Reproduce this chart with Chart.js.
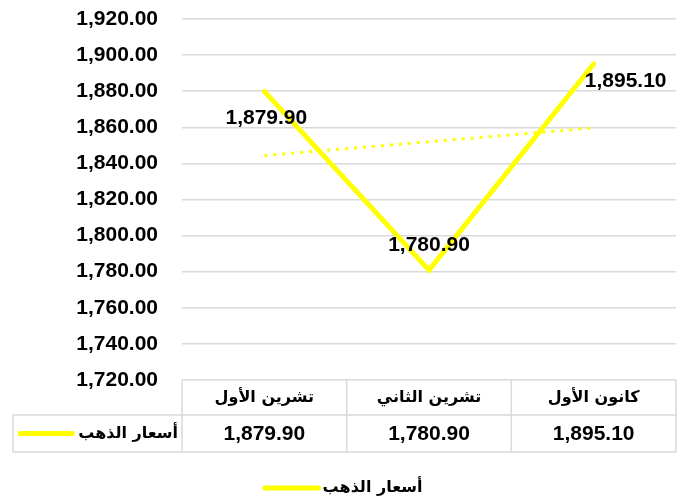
<!DOCTYPE html>
<html>
<head>
<meta charset="utf-8">
<script src="https://cdn.jsdelivr.net/npm/chart.js@4"></script>
<style>
html,body{margin:0;padding:0;background:#fff;}
#wrap{width:685px;height:502px;position:relative;}
</style>
</head>
<body>
<div id="wrap"><canvas id="c" width="685" height="502"></canvas></div>
<script>
// ---- data ----
const categories = ['تشرين الأول', 'تشرين الثاني', 'كانون الأول'];
const seriesName = 'أسعار الذهب';
const goldPrices = [1879.90, 1780.90, 1895.10];
const trendValues = [1844.37, 1851.97, 1859.57];
const yMin = 1720;
const yMax = 1920;
const yStep = 20;

const NUM_FAMILY = "'Liberation Sans', Arial, sans-serif";
const NUM_FONT = "bold 21px " + NUM_FAMILY;
const AR_FONT = "bold 16px 'DejaVu Sans', sans-serif";
const fmt = v => Number(v).toLocaleString('en-US', {minimumFractionDigits: 2, maximumFractionDigits: 2});

const tablePlugin = {
  id: 'tablePlugin',
  afterDraw(chart, args, opts) {
    const ctx = chart.ctx;
    const x = chart.scales.x;
    const ca = chart.chartArea;
    const n = categories.length;
    const colW = ca.width / n;
    const top = ca.bottom;
    const mid = top + opts.row1;
    const bot = mid + opts.row2;
    ctx.save();
    ctx.strokeStyle = '#d9d9d9';
    ctx.lineWidth = 1.5;
    ctx.beginPath();
    ctx.moveTo(opts.tableLeft, mid); ctx.lineTo(ca.right, mid);
    ctx.moveTo(opts.tableLeft, bot); ctx.lineTo(ca.right, bot);
    for (let i = 0; i <= n; i++) {
      const xp = ca.left + i * colW;
      ctx.moveTo(xp, top); ctx.lineTo(xp, bot);
    }
    ctx.moveTo(opts.tableLeft, mid); ctx.lineTo(opts.tableLeft, bot);
    ctx.stroke();

    ctx.fillStyle = '#000';
    ctx.textAlign = 'center';
    ctx.textBaseline = 'middle';
    for (let i = 0; i < n; i++) {
      const cx = x.getPixelForValue(i);
      ctx.font = AR_FONT;
      ctx.fillText(categories[i], cx, (top + mid) / 2);
      ctx.font = NUM_FONT;
      ctx.fillText(fmt(goldPrices[i]), cx, (mid + bot) / 2 + 1);
    }
    // legend key in table
    const ds = chart.data.datasets[0];
    ctx.font = AR_FONT;
    ctx.textAlign = 'right';
    const ky = (mid + bot) / 2;
    ctx.fillText(ds.label, ca.left - 4, ky);
    const tw = ctx.measureText(ds.label).width;
    ctx.strokeStyle = ds.borderColor;
    ctx.lineWidth = 5;
    ctx.lineCap = 'round';
    ctx.beginPath();
    ctx.moveTo(ca.left - 4 - tw - 6, ky);
    ctx.lineTo(ca.left - 4 - tw - 6 - 52, ky);
    ctx.stroke();

    // bottom legend
    ctx.textAlign = 'left';
    const lw = 56, gap = 4;
    const total = lw + gap + tw;
    const sx = (chart.width - total) / 2;
    const ly = opts.legendY;
    ctx.beginPath();
    ctx.moveTo(sx + 2, ly);
    ctx.lineTo(sx + lw, ly);
    ctx.stroke();
    ctx.fillText(ds.label, sx + lw + gap, ly);

    // data labels
    const meta = chart.getDatasetMeta(0);
    ctx.font = NUM_FONT;
    ctx.textAlign = 'center';
    meta.data.forEach((pt, i) => {
      const o = opts.labelOffsets[i];
      ctx.fillText(fmt(goldPrices[i]), pt.x + o[0], pt.y + o[1]);
    });
    ctx.restore();
  }
};

new Chart(document.getElementById('c'), {
  type: 'line',
  data: {
    labels: categories,
    datasets: [
      {
        label: seriesName,
        data: goldPrices,
        borderColor: '#FFFF00',
        backgroundColor: '#FFFF00',
        borderWidth: 5,
        pointRadius: 0,
        tension: 0,
        borderCapStyle: 'round',
        borderJoinStyle: 'miter'
      },
      {
        label: 'trend',
        data: trendValues,
        borderColor: '#FFFF00',
        borderWidth: 3,
        borderDash: [3, 6],
        pointRadius: 0,
        tension: 0
      }
    ]
  },
  options: {
    responsive: false,
    animation: false,
    events: [],
    layout: { padding: { top: 19, right: 9, bottom: 122, left: 0 } },
    plugins: {
      legend: { display: false },
      tooltip: { enabled: false },
      tablePlugin: {
        tableLeft: 13,
        row1: 35,
        row2: 37,
        legendY: 488,
        labelOffsets: [[2, 27], [0, -25], [32, 17]]
      }
    },
    scales: {
      x: {
        display: false,
        offset: true
      },
      y: {
        min: yMin,
        max: yMax,
        afterFit(scale) { scale.width = 182; },
        border: { display: false },
        grid: { color: '#d9d9d9', lineWidth: 1.5, drawTicks: true, tickLength: 24, tickColor: 'rgba(0,0,0,0)' },
        ticks: {
          stepSize: yStep,
          padding: 0,
          color: '#000',
          font: { family: NUM_FAMILY, size: 21, weight: 'bold' },
          callback: v => fmt(v)
        }
      }
    }
  },
  plugins: [tablePlugin]
});
</script>
</body>
</html>
